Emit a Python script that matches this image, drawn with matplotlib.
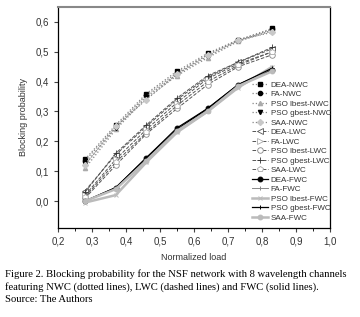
import matplotlib.pyplot as plt
import numpy as np

plt.rcParams['font.family'] = ['Liberation Sans', 'DejaVu Sans']

load = [0.28, 0.37, 0.46, 0.55, 0.64, 0.73, 0.83]

names = ['DEA', 'FA', 'PSO lbest', 'PSO gbest', 'SAA']

nwc = [
    [0.140, 0.255, 0.360, 0.435, 0.495, 0.540, 0.578],
    [0.135, 0.250, 0.355, 0.430, 0.490, 0.538, 0.575],
    [0.110, 0.240, 0.345, 0.420, 0.480, 0.535, 0.570],
    [0.125, 0.245, 0.350, 0.425, 0.485, 0.537, 0.572],
    [0.120, 0.250, 0.340, 0.425, 0.490, 0.540, 0.565],
]
lwc = [
    [0.035, 0.155, 0.250, 0.340, 0.415, 0.465, 0.510],
    [0.020, 0.140, 0.240, 0.330, 0.410, 0.460, 0.500],
    [0.010, 0.120, 0.225, 0.310, 0.390, 0.450, 0.490],
    [0.030, 0.160, 0.255, 0.345, 0.420, 0.465, 0.515],
    [0.015, 0.130, 0.230, 0.320, 0.400, 0.455, 0.500],
]
fwc = [
    [0.000, 0.045, 0.145, 0.245, 0.310, 0.390, 0.440],
    [0.000, 0.040, 0.140, 0.235, 0.305, 0.385, 0.445],
    [-0.005, 0.020, 0.130, 0.230, 0.300, 0.380, 0.450],
    [0.000, 0.045, 0.145, 0.240, 0.310, 0.390, 0.445],
    [0.000, 0.040, 0.135, 0.235, 0.300, 0.385, 0.435],
]

fig = plt.figure(figsize=(3.6, 3.17), dpi=100)
ax = fig.add_axes([0.161, 0.281, 0.756, 0.697])

# NWC - dotted
nwc_style = [('s', 'k', 'k'), ('o', 'k', 'k'), ('^', '#aaaaaa', '#aaaaaa'),
             ('v', 'k', 'k'), ('D', '#c8c8c8', '#c8c8c8')]
for i in range(5):
    m, mc, fc = nwc_style[i]
    ax.plot(load, nwc[i], ls=':', color='#888888', lw=0.9, marker=m, ms=3,
            mfc=fc, mec=mc, label=names[i] + '-NWC')

# LWC - dashed
lwc_style = [('<', '#555555'), ('>', '#aaaaaa'), ('o', '#888888'),
             ('+', '#333333'), ('p', '#aaaaaa')]
for i in range(5):
    m, c = lwc_style[i]
    ax.plot(load, lwc[i], ls='--', color='#555555', lw=0.7, marker=m, ms=4,
            mfc='white' if m != '+' else c, mec=c, mew=0.6,
            label=names[i] + '-LWC')

# FWC - solid
fwc_style = [('o', 'k', 0.9), ('|', '#888888', 0.7), ('x', '#bbbbbb', 1.8),
             ('+', 'k', 0.9), ('o', '#bbbbbb', 1.8)]
for i in range(5):
    m, c, w = fwc_style[i]
    ax.plot(load, fwc[i], ls='-', color=c, lw=w, marker=m, ms=3.5,
            mec=c, mfc=c, mew=0.7, label=names[i] + '-FWC')

ax.set_xlim(0.2, 1.0)
ax.set_ylim(-0.09, 0.65)
ax.set_xticks(np.arange(0.2, 1.01, 0.1))
ax.set_xticks(np.arange(0.25, 1.0, 0.1), minor=True)
ax.set_yticks(np.arange(0.0, 0.61, 0.1))
ax.set_xticklabels([('%.1f' % v).replace('.', ',') for v in np.arange(0.2, 1.01, 0.1)])
ax.set_yticklabels([('%.1f' % v).replace('.', ',') for v in np.arange(0.0, 0.61, 0.1)])
ax.tick_params(labelsize=7, length=3, width=0.8, color='#444444', labelcolor='#333333')
ax.tick_params(which='minor', length=2, width=0.6)
ax.spines['top'].set_color('#888888')
ax.spines['top'].set_linewidth(1.5)
for s in ['left', 'bottom', 'right']:
    ax.spines[s].set_linewidth(0.9)

ax.set_xlabel('Normalized load', fontsize=6.5, color='#333333', labelpad=4)
ax.set_ylabel('Blocking probability', fontsize=6.5, color='#333333', labelpad=5)

leg = ax.legend(loc='upper left', bbox_to_anchor=(0.713, 0.665),
                fontsize=5.8, frameon=False, handlelength=2.0,
                handletextpad=0.3, labelspacing=0.23, borderpad=0,
                borderaxespad=0)
for t in leg.get_texts():
    t.set_color('#333333')

cap = ('Figure 2. Blocking probability for the NSF network with 8 wavelength channels\n'
       'featuring NWC (dotted lines), LWC (dashed lines) and FWC (solid lines).\n'
       'Source: The Authors')
fig.text(0.014, 0.152, cap, fontsize=7.7, family='Liberation Serif',
         va='top', ha='left', linespacing=1.45)

fig.savefig('out.png', dpi=100)
